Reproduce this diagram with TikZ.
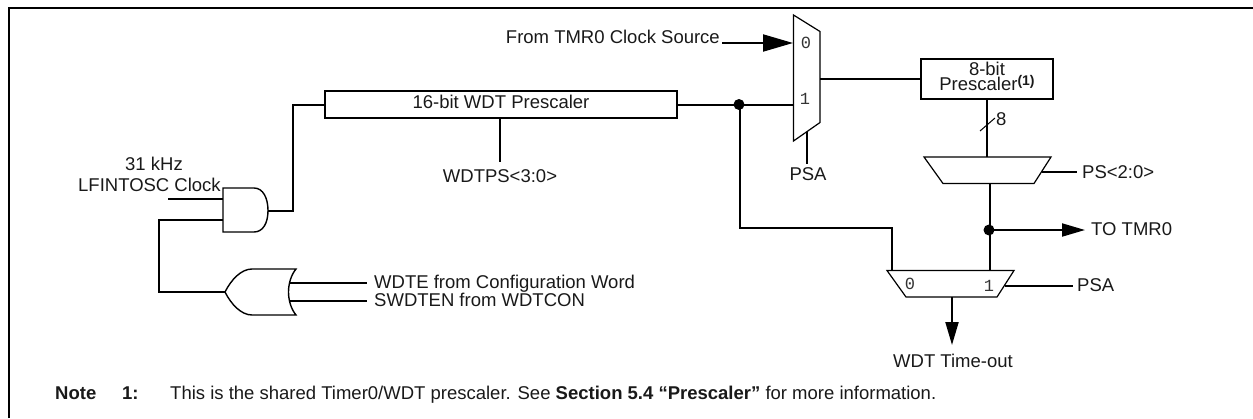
\documentclass[tikz,border=0pt]{standalone}
\usepackage{fontspec}
\setmainfont{Liberation Sans}
\setmonofont{Liberation Mono}
\usetikzlibrary{arrows.meta}
\tikzset{
  wire/.style={line width=2pt,line cap=butt,line join=miter},
  shapeline/.style={line width=1.2pt,line join=miter,fill=white},
  gateline/.style={line width=1.4pt,line join=miter,fill=white},
  boxnode/.style={draw,line width=2pt,inner sep=0pt,align=center},
  lbl/.style={inner sep=0pt,font=\fontsize{18.5}{20}\selectfont,text=black!90},
  digit/.style={inner sep=0pt,font=\fontsize{17}{18}\selectfont\ttfamily,text=black!80},
  dotnode/.style={circle,fill=black,inner sep=0pt,minimum size=11pt},
  bigarrow/.style={wire,-{Triangle[length=30pt,width=17pt]}},
  midarrow/.style={wire,-{Triangle[length=23pt,width=13pt]}},
}
\begin{document}
\begin{tikzpicture}[x=1pt,y=-1pt]
\useasboundingbox (0,0) rectangle (1253,418);
\coordinate (frameB) at (9,418);
\coordinate (frameC) at (9,8);
\coordinate (frameR) at (1253,8);
\draw[line width=2pt] (frameB) -- (frameC) -- (frameR);

% boxes
\node[boxnode,minimum width=352pt,minimum height=27pt] (wdtbox) at (501,104.5) {};
\node[lbl,anchor=base] (wdttext) at (501,108) {16-bit WDT Prescaler};
\node[boxnode,minimum width=132pt,minimum height=40pt] (psbox) at (987,79) {};
\node[lbl,anchor=base] (pstext1) at (987,75) {8-bit};
\node[lbl,anchor=base] (pstext2) at (987,90.7) {Prescaler\textbf{\raisebox{5pt}{\fontsize{14}{15}\selectfont (1)}}};

% AND gate
\coordinate (andTL) at (223,188);
\coordinate (andBL) at (223,232);
\coordinate (andOut) at (268,210.5);
\coordinate (andInA) at (223,199);
\coordinate (andInB) at (223,220);
\draw[gateline] (andTL) -- (254,188) .. controls (263,188) and (268,198) .. (andOut)
  .. controls (268,223) and (263,232) .. (254,232) -- (andBL) -- cycle;

% OR gate
\coordinate (orTip) at (225,292);
\coordinate (orInA) at (289,283);
\coordinate (orInB) at (289,301);
\draw[gateline] (orTip) .. controls (231,280) and (241,269) .. (252,269) -- (296,269)
  .. controls (291,275) and (288.5,284) .. (288.5,292)
  .. controls (288.5,300) and (291,309) .. (296,315) -- (252,315)
  .. controls (241,315) and (231,304) .. (orTip);

% upper mux
\coordinate (muxA) at (793.5,15);
\coordinate (muxB) at (820,31.5);
\coordinate (muxC) at (820,122.5);
\coordinate (muxD) at (793.5,141);
\draw[shapeline] (muxA) -- (muxB) -- (muxC) -- (muxD) -- cycle;
\node[digit] (mux0) at (806,43) {0};
\node[digit] (mux1) at (805,99) {1};
\coordinate (muxIn0) at (793,43);
\coordinate (muxIn1) at (793.5,104.5);
\coordinate (muxOut) at (820,79);
\coordinate (muxSel) at (807,132);

% PS mux
\draw[shapeline] (924,157) coordinate (psA) -- (1051,157) -- (1034,183.5) -- (943,183.5) -- cycle;
\coordinate (psIn) at (987,157);
\coordinate (psOut) at (990,183.5);
\coordinate (psSel) at (1042,172);

% lower mux
\draw[shapeline] (887,270.5) coordinate (loA) -- (1014,270.5) -- (997,297) -- (906,297) -- cycle;
\node[digit] (lo0) at (910,284) {0};
\node[digit] (lo1) at (989,286) {1};
\coordinate (loIn0) at (892,270.5);
\coordinate (loIn1) at (990,270.5);
\coordinate (loSel) at (1005,286);
\coordinate (loOut) at (952,297);

% dots
\node[dotnode] (dotA) at (739,104.5) {};
\node[dotnode] (dotB) at (989,230) {};

% free-end coordinates
\coordinate (oscEnd) at (168,199);
\coordinate (wdtpsEnd) at (500,162);
\coordinate (tmrStart) at (722,43);
\coordinate (psaEnd) at (807,164);
\coordinate (slashA) at (980,131);
\coordinate (slashB) at (995,118);
\coordinate (psSelEnd) at (1077,172);
\coordinate (psaEnd2) at (1073,286);
\coordinate (tmr0End) at (1085,230);
\coordinate (wdteEnd) at (367,283);
\coordinate (swdtEnd) at (367,301);
\coordinate (toEnd) at (952,345);

% connectors
\draw[wire] (oscEnd) -- (andInA);
\draw[wire] (andOut) -- (293,210.5) |- (wdtbox.west);
\draw[wire] (andInB) -- (159,220) |- (orTip);
\draw[wire] (orInA) -- (wdteEnd);
\draw[wire] (orInB) -- (swdtEnd);
\draw[wire] (wdtbox.east) -- (muxIn1);
\draw[wire] (wdtbox.south -| wdtpsEnd) -- (wdtpsEnd);
\draw[bigarrow] (tmrStart) -- (muxIn0);
\draw[wire] (muxOut) -- (psbox.west |- muxOut);
\draw[wire] (muxSel) -- (psaEnd);
\draw[wire] (psbox.south) -- (psIn);
\draw[line width=1pt] (slashA) -- (slashB);
\draw[wire] (psOut) -- (loIn1);
\draw[wire] (psSel) -- (psSelEnd);
\draw[midarrow] (dotB.center) -- (tmr0End);
\draw[wire] (740,105) -- (740,228) -| (loIn0);
\draw[wire] (loSel) -- (psaEnd2);
\draw[midarrow] (loOut) -- (toEnd);

% labels
\node[lbl,anchor=base] (l31) at (154,170.7) {31 kHz};
\node[lbl,anchor=base west] (llf) at (78,191.7) {LFINTOSC Clock};
\node[lbl,anchor=base west] (lwdte) at (374,288) {WDTE from Configuration Word};
\node[lbl,anchor=base west] (lswdt) at (374,306) {SWDTEN from WDTCON};
\node[lbl,anchor=base] (lwdtps) at (500,182) {WDTPS<3:0>};
\node[lbl,anchor=base east] (lfrom) at (720,43.3) {From TMR0 Clock Source};
\node[lbl,anchor=base] (lpsa) at (808,180) {PSA};
\node[lbl,anchor=base west] (l8) at (996,125) {8};
\node[lbl,anchor=base west] (lps) at (1082,178) {PS<2:0>};
\node[lbl,anchor=base west] (lto) at (1091,235) {TO TMR0};
\node[lbl,anchor=base west] (lpsa2) at (1077,291) {PSA};
\node[lbl,anchor=base] (ltime) at (953,367) {WDT Time-out};
\node[lbl,anchor=base west] (nnote) at (55,399) {\textbf{Note}};
\node[lbl,anchor=base west] (nnum) at (122,399) {\textbf{1:}};
\node[lbl,anchor=base west] (ntext) at (170,399) {This is the shared Timer0/WDT prescaler. See \textbf{Section 5.4 “Prescaler”} for more information.};
\end{tikzpicture}
\end{document}
